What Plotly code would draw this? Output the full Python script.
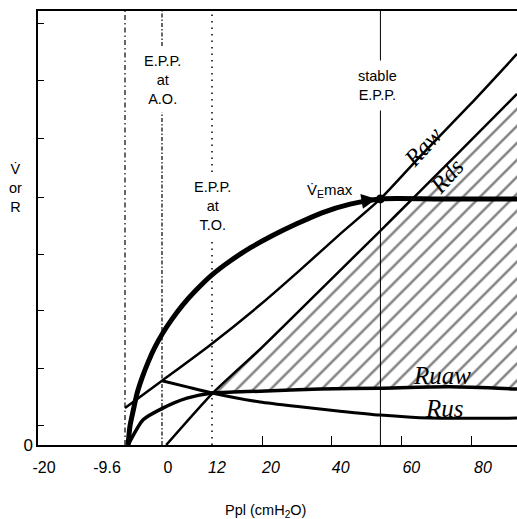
import numpy as np
import plotly.graph_objects as go

# ---------------- data ----------------
# x: pleural pressure Ppl (cmH2O); y: flow / resistance in arbitrary units (0-100)
x_tick_values = [-20, -9.6, 0, 12, 20, 40, 60, 80]
x_tick_text = ["-20", "-9.6", "0", "<i>12</i>", "<i>20</i>", "<i>40</i>", "<i>60</i>", "<i>80</i>"]
x_tick_marks = [20, 40, 60, 80]
y_tick_marks = [0, 4.6, 17.7, 30.9, 43.8, 57.1, 70.7, 84.1, 97.2]

epp_line_96 = -9.6      # unlabelled dash-dot line
epp_ao = 0              # E.P.P. at A.O.
epp_to = 12             # E.P.P. at T.O.
epp_stable = 54         # stable E.P.P.

vemax_x = [-8.8, -8.3, -7.5, -6.5, -5.2, -3.6, -1.8, 0.2, 2.4, 5.0, 8.2, 12.0, 14.9,
           18.1, 22.9, 29.8, 37.2, 45.3, 54.0, 70.0, 93.2]
vemax_y = [0, 4.4, 7.8, 11.8, 15.4, 19.1, 22.6, 25.8, 29.0, 32.3, 35.7, 39.2, 42.4,
           45.4, 48.2, 50.9, 53.5, 55.5, 56.7, 56.7, 56.7]

raw_x = [-9.6, 0.0, 11.5, 19.7, 30.9, 42.4, 54.0, 65.4, 79.7, 93.2]
raw_y = [8.5, 14.8, 23.0, 32.3, 40.3, 48.6, 56.7, 66.5, 78.4, 90.1]

rds_x = [1.0, 12.0, 19.7, 36.7, 53.9, 63.4, 76.9, 93.2]
rds_y = [0, 11.8, 22.1, 35.7, 49.3, 56.9, 67.7, 80.9]

ruaw_x = [-8.8, -4.9, 0.2, 6.0, 12.0, 15.4, 19.7, 36.7, 53.9, 74.0, 93.2]
ruaw_y = [0, 5.8, 8.5, 10.8, 12.0, 12.2, 12.4, 12.9, 13.1, 13.4, 12.9]

rus_x = [0.0, 6.0, 12.0, 19.7, 30.9, 42.4, 53.9, 68.2, 93.2]
rus_y = [14.8, 13.4, 12.0, 9.9, 8.8, 7.8, 6.9, 6.2, 6.2]

# ---------------- schematic (non-linear) Ppl scale ----------------
PPL_BREAKS = [-20, -9.6, 0, 12, 20, 80, 100]
POS_BREAKS = [0, 87, 124, 174, 224, 433, 502.7]


def sx(v):
    return np.interp(np.asarray(v, dtype=float), PPL_BREAKS, POS_BREAKS)


X_RANGE = [0, 479]
Y_RANGE = [0, 100]
LABEL_NUDGE = [6, -18, 6, 5, 9, 9, 10, 12]

SANS = "Liberation Sans, Arial, sans-serif"
SERIF = "Liberation Serif, Times New Roman, serif"

fig = go.Figure()

# vertical reference lines
vstyles = [(epp_line_96, "5px,3px,1.5px,3px", 1.2),
           (epp_ao, "4px,2px,1.5px,2px", 1.2),
           (epp_to, "1.5px,5px", 1.5),
           (epp_stable, "solid", 1.0)]
for xv, dash, w in vstyles:
    fig.add_trace(go.Scatter(x=sx([xv, xv]), y=[Y_RANGE[0], Y_RANGE[1]], mode="lines",
                             line=dict(color="black", width=w, dash=dash),
                             hoverinfo="skip", showlegend=False))

# hatched region between Rds and Ruaw (right of the common intersection)
rds_xa, rds_ya = np.array(rds_x), np.array(rds_y)
ruaw_xa, ruaw_ya = np.array(ruaw_x), np.array(ruaw_y)
mask_r = rds_xa >= epp_to
mask_u = ruaw_xa >= epp_to
hx = np.concatenate([rds_xa[mask_r], ruaw_xa[mask_u][::-1]])
hy = np.concatenate([rds_ya[mask_r], ruaw_ya[mask_u][::-1]])
fig.add_trace(go.Scatter(x=sx(hx), y=hy, mode="lines", fill="toself",
                         line=dict(width=0, color="rgba(0,0,0,0)"),
                         fillcolor="rgba(0,0,0,0)",
                         fillpattern=dict(shape="/", fgcolor="black", bgcolor="rgba(0,0,0,0)",
                                          size=12, solidity=0.2),
                         hoverinfo="skip", showlegend=False))

curves = [(raw_x, raw_y, 2.5), (rds_x, rds_y, 2.5), (ruaw_x, ruaw_y, 3.5),
          (rus_x, rus_y, 3.0), (vemax_x, vemax_y, 5.0)]
for cx, cy, w in curves:
    fig.add_trace(go.Scatter(x=sx(cx), y=cy, mode="lines",
                             line=dict(color="black", width=w, shape="spline", smoothing=0.6),
                             hoverinfo="skip", showlegend=False))

# stable point
fig.add_trace(go.Scatter(x=sx([epp_stable]), y=[np.interp(epp_stable, vemax_x, vemax_y)],
                         mode="markers", marker=dict(color="black", size=9),
                         hoverinfo="skip", showlegend=False))

ann = []


def txt(x, y, text, size=14, family=SANS, bg=None, pad=1, xshift=0, angle=0, xref="x", yref="y"):
    d = dict(x=x, y=y, xref=xref, yref=yref, text=text, showarrow=False,
             font=dict(family=family, size=size, color="black"), align="center",
             xanchor="center", yanchor="middle", borderpad=pad, xshift=xshift, textangle=angle)
    if bg:
        d["bgcolor"] = bg
    ann.append(d)


txt(float(sx(epp_ao)), 84.1, "E.P.P.<br>at<br>A.O.", size=14.5, bg="white", pad=5)
txt(float(sx(epp_to)), 55.1, "E.P.P.<br>at<br>T.O.", size=14.5, bg="white", pad=4)
txt(float(sx(epp_stable)), 82.9, "stable<br>E.P.P.", size=14.5, bg="white", pad=7, xshift=-3)
txt(float(sx(39.5)), 58.6, "V\u0307<sub>E</sub>max", size=15)

txt(float(sx(66.2)), 68.7, "<i>Raw</i>", size=24, family=SERIF, angle=-48)
txt(float(sx(73.1)), 62.0, "<i>Rds</i>", size=24, family=SERIF, angle=-48)
txt(float(sx(71.7)), 16.0, "<i>Ruaw</i>", size=25, family=SERIF)
txt(float(sx(72.5)), 8.4, "<i>Rus</i>", size=25, family=SERIF)

txt(-0.048, 0.593, "V\u0307<br>or<br>R", size=14.5, xref="paper", yref="paper")
txt(0.474, -0.152, "Ppl (cmH<sub>2</sub>O)", size=14.5, xref="paper", yref="paper")

# arrowhead at the end of the V'E max curve
ann.append(dict(x=float(sx(epp_stable)) - 4, y=56.7, ax=float(sx(48.5)), ay=56.1,
                xref="x", yref="y", axref="x", ayref="y", text="", showarrow=True,
                arrowhead=2, arrowsize=1.2, arrowwidth=2.5, arrowcolor="black"))

fig.update_layout(
    width=517, height=519,
    margin=dict(l=38, r=0, t=11, b=74),
    paper_bgcolor="white", plot_bgcolor="white",
    showlegend=False,
    annotations=ann,
    xaxis=dict(range=X_RANGE, showgrid=False, zeroline=False,
               showline=True, linecolor="black", linewidth=1.5, mirror=True,
               tickmode="array",
               tickvals=[float(sx(v)) + n for v, n in zip(x_tick_values, LABEL_NUDGE)],
               ticktext=x_tick_text, ticks="", ticklabelstandoff=7,
               tickfont=dict(family=SANS, size=16, color="black"),
               minor=dict(tickmode="array", tickvals=[float(v) for v in sx(x_tick_marks)],
                          ticks="inside", ticklen=9, tickwidth=1, tickcolor="black"),
               fixedrange=True),
    yaxis=dict(range=Y_RANGE, showgrid=False, zeroline=False,
               showline=True, linecolor="black", linewidth=1.5, mirror=False,
               tickmode="array", tickvals=y_tick_marks,
               ticktext=["0"] + [""] * (len(y_tick_marks) - 1),
               ticks="inside", ticklen=6, tickwidth=1, tickcolor="black",
               tickfont=dict(family=SANS, size=17, color="black"),
               fixedrange=True),
)

fig.write_html("out.html", config={"displayModeBar": False},
               post_script="document.body.style.margin='0';document.body.style.overflow='hidden';")
